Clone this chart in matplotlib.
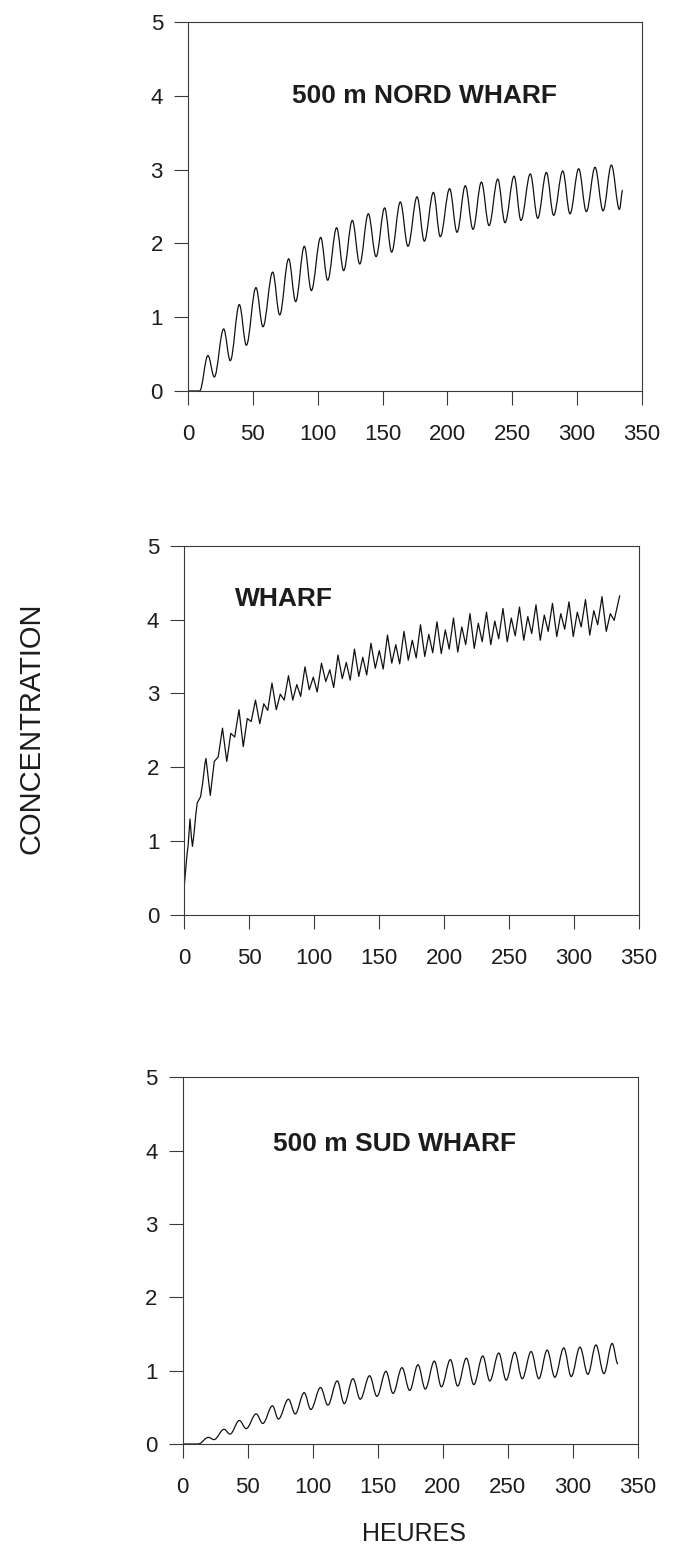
import matplotlib
matplotlib.use('Agg')
import matplotlib.pyplot as plt
from matplotlib.path import Path
from matplotlib.patches import PathPatch

# values: time in hours, concentration
hour_ticks = [0, 50, 100, 150, 200, 250, 300, 350]
conc_ticks = [0, 1, 2, 3, 4, 5]

panel_titles = ['500 m NORD WHARF', 'WHARF', '500 m SUD WHARF']

# peaks and troughs of the tidal signal, 500 m north of the wharf
nord_t = [0, 9, 15.4, 20.3, 27.5, 32.6, 39.6, 45.0, 52.4, 57.8, 65.3, 70.7,
          77.6, 83.0, 89.7, 95.1, 102.3, 107.7, 114.6, 120.0, 126.7, 132.4, 139.0,
          145.0, 151.6, 157.0, 163.7, 169.6, 176.6, 182.2, 189.2, 194.5, 201.7,
          207.4, 213.8, 219.7, 226.2, 232.1, 238.8, 244.4, 251.4, 256.7, 263.9,
          269.6, 276.3, 281.9, 288.9, 294.5, 301.2, 307.1, 313.8, 320.0, 326.4,
          332.6, 335.1]
nord_c = [0, 0, 0.48, 0.19, 0.84, 0.41, 1.17, 0.62, 1.40, 0.87, 1.61, 1.03,
          1.79, 1.21, 1.96, 1.36, 2.08, 1.50, 2.21, 1.63, 2.31, 1.72, 2.40,
          1.82, 2.48, 1.88, 2.56, 1.96, 2.63, 2.03, 2.69, 2.09, 2.74,
          2.15, 2.78, 2.19, 2.83, 2.24, 2.87, 2.28, 2.91, 2.31, 2.94,
          2.34, 2.96, 2.38, 2.98, 2.40, 3.01, 2.43, 3.03, 2.44, 3.06,
          2.46, 2.72]

# at the wharf (noisier signal)
wharf_t = [0, 1.0, 2.0, 3.0, 4.4, 5.5, 6.3, 7.5, 8.8, 10.0, 12.5, 14.1, 15.9,
           16.7, 20.0, 23.1, 26.1,
           29.4, 32.7, 35.8, 38.8,
           42.1, 45.4, 48.5, 51.5,
           54.8, 58.1, 61.2, 64.2,
           67.5, 70.8, 73.9, 76.9,
           80.2, 83.5, 86.6, 89.6,
           92.9, 96.2, 99.3, 102.3,
           105.6, 108.9, 112.0, 115.0,
           118.3, 121.6, 124.7, 127.7,
           131.0, 134.3, 137.4, 140.4,
           143.7, 147.0, 150.1, 153.1,
           156.4, 159.7, 162.8, 165.8,
           169.1, 172.4, 175.5, 178.5,
           181.8, 185.1, 188.2, 191.2,
           194.5, 197.8, 200.9, 203.9,
           207.2, 210.5, 213.6, 216.6,
           219.9, 223.2, 226.3, 229.3,
           232.6, 235.9, 239.0, 242.0,
           245.3, 248.6, 251.7, 254.7,
           258.0, 261.3, 264.4, 267.4,
           270.7, 274.0, 277.1, 280.1,
           283.4, 286.7, 289.8, 292.8,
           296.1, 299.4, 302.5, 305.5,
           308.8, 312.1, 315.2, 318.2,
           321.5, 324.8, 327.9, 330.9,
           335.1]
wharf_c = [0.40, 0.60, 0.80, 0.95, 1.30, 1.05, 0.93, 1.10, 1.35, 1.52, 1.60, 1.78, 2.05,
           2.12, 1.62, 2.08, 2.14,
           2.53, 2.08, 2.46, 2.41,
           2.78, 2.28, 2.66, 2.62,
           2.91, 2.59, 2.86, 2.77,
           3.14, 2.78, 2.99, 2.91,
           3.24, 2.91, 3.12, 2.96,
           3.36, 3.05, 3.22, 3.02,
           3.41, 3.16, 3.32, 3.08,
           3.52, 3.20, 3.42, 3.18,
           3.60, 3.23, 3.49, 3.25,
           3.68, 3.34, 3.58, 3.33,
           3.79, 3.41, 3.66, 3.40,
           3.84, 3.45, 3.72, 3.48,
           3.93, 3.50, 3.80, 3.55,
           3.97, 3.54, 3.86, 3.60,
           4.02, 3.56, 3.90, 3.66,
           4.08, 3.61, 3.95, 3.70,
           4.10, 3.66, 3.98, 3.74,
           4.15, 3.70, 4.02, 3.78,
           4.17, 3.72, 4.04, 3.81,
           4.20, 3.72, 4.06, 3.84,
           4.22, 3.77, 4.08, 3.87,
           4.24, 3.77, 4.10, 3.90,
           4.27, 3.79, 4.12, 3.93,
           4.31, 3.84, 4.08, 3.99,
           4.32]

# 500 m south of the wharf
sud_t = [0, 12, 19.8, 24.1, 31.8, 36.4, 43.6, 48.8, 56.5, 61.6, 69.0, 73.6,
         81.3, 86.5, 93.4, 98.5, 106.0, 111.6, 118.8, 124.2, 130.9, 136.5, 143.7,
         149.3, 156.3, 161.7, 168.6, 174.5, 180.9, 186.5, 193.5, 198.9, 205.8,
         211.4, 218.1, 223.8, 230.7, 236.1, 243.0, 248.7, 255.3, 261.0, 267.9,
         273.8, 280.2, 286.1, 293.0, 298.7, 305.4, 311.5, 317.7, 323.8, 330.2,
         334.6]
sud_c = [0, 0, 0.09, 0.06, 0.20, 0.135, 0.32, 0.21, 0.41, 0.28, 0.52, 0.34,
         0.61, 0.41, 0.70, 0.47, 0.77, 0.53, 0.86, 0.55, 0.89, 0.61, 0.93,
         0.65, 0.99, 0.69, 1.04, 0.73, 1.08, 0.75, 1.13, 0.78, 1.15,
         0.79, 1.17, 0.81, 1.20, 0.86, 1.24, 0.87, 1.25, 0.89, 1.26,
         0.89, 1.28, 0.91, 1.31, 0.92, 1.32, 0.95, 1.35, 0.96, 1.37,
         1.09]

plt.rcParams['font.family'] = ['Liberation Sans', 'DejaVu Sans']

TEXT_COLOR = '#1c1c1c'
FRAME_COLOR = '#3a3a3a'
CURVE_COLOR = '#111111'


#------------------------------------------------------------------------------
def _setup_axes(ax):
    ax.set_xlim(0, 350)
    ax.set_ylim(0, 5)
    ax.set_xticks(hour_ticks)
    ax.set_yticks(conc_ticks)
    ax.tick_params(direction='out', length=10, width=0.8, color=FRAME_COLOR,
                   labelsize=16, labelcolor=TEXT_COLOR)
    ax.tick_params(axis='x', pad=14)
    ax.tick_params(axis='y', pad=8)
    for spine in ax.spines.values():
        spine.set_linewidth(0.8)
        spine.set_color(FRAME_COLOR)


#------------------------------------------------------------------------------
def _extrema_path(t, c, handle=0.36):
    """
    Bezier path through the read extrema, flat at every vertex,
    so the tidal swings come out rounded instead of as a zigzag.
    """
    verts = [(t[0], c[0])]
    codes = [Path.MOVETO]
    for i in range(1, len(t)):
        d = (t[i] - t[i - 1]) * handle
        verts += [(t[i - 1] + d, c[i - 1]), (t[i] - d, c[i]), (t[i], c[i])]
        codes += [Path.CURVE4] * 3
    return Path(verts, codes)


#------------------------------------------------------------------------------
def plot_panel(ax, t, c, title, title_x, title_y, smooth=True):
    _setup_axes(ax)
    if smooth:
        ax.add_patch(PathPatch(_extrema_path(t, c), facecolor='none',
                               edgecolor=CURVE_COLOR, lw=0.9))
    else:
        ax.plot(t, c, color=CURVE_COLOR, lw=0.9)
    ax.text(title_x, title_y, title, transform=ax.transAxes, ha='center', va='center',
            fontsize=19, fontweight='bold', color=TEXT_COLOR)


fig = plt.figure(figsize=(6.97, 15.52), dpi=100)

# axes boxes in figure fractions
ax1 = fig.add_axes([0.2697, 0.7481, 0.6514, 0.2378])
ax2 = fig.add_axes([0.2644, 0.4104, 0.6524, 0.2380])
ax3 = fig.add_axes([0.2621, 0.0696, 0.6532, 0.2363])

plot_panel(ax1, nord_t, nord_c, panel_titles[0], 0.52, 0.80)
plot_panel(ax2, wharf_t, wharf_c, panel_titles[1], 0.22, 0.855, smooth=False)
plot_panel(ax3, sud_t, sud_c, panel_titles[2], 0.465, 0.818)

fig.text(0.045, 0.531, 'CONCENTRATION', rotation=90, ha='center', va='center',
         fontsize=21, color=TEXT_COLOR)
fig.text(0.594, 0.0115, 'HEURES', ha='center', va='center', fontsize=18, color=TEXT_COLOR)

fig.savefig('out.png', dpi=100)
